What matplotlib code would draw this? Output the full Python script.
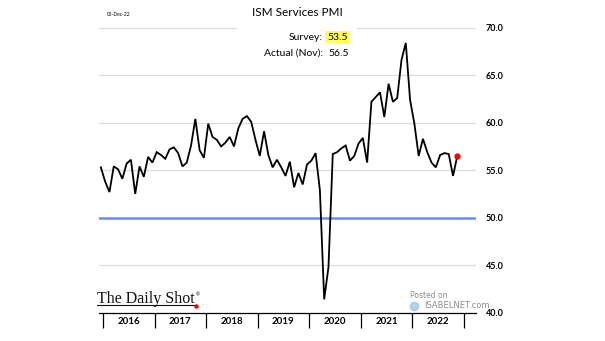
import numpy as np
import matplotlib
matplotlib.use("Agg")
import matplotlib.pyplot as plt
from matplotlib.patches import Rectangle
from matplotlib.lines import Line2D

plt.rcParams['font.family'] = ['Lato', 'DejaVu Sans']

# ISM services PMI, monthly, Dec 2015 .. Nov 2022
pmi = [55.3,
       53.8, 52.7, 55.4, 55.1, 54.1, 55.7, 56.1, 52.5, 55.4, 54.3, 56.4, 55.8,   # 2016
       56.9, 56.6, 56.2, 57.2, 57.4, 56.8, 55.4, 55.8, 57.6, 60.4, 57.1, 56.3,   # 2017
       59.9, 58.5, 58.2, 57.5, 57.9, 58.5, 57.5, 59.4, 60.4, 60.7, 60.1, 58.2,   # 2018
       56.5, 59.1, 56.6, 55.3, 56.1, 55.3, 54.4, 55.9, 53.2, 54.7, 53.5, 55.6,   # 2019
       56.0, 56.8, 52.9, 41.4, 44.8, 56.7, 56.9, 57.3, 57.6, 56.0, 56.5, 57.8,   # 2020
       58.4, 55.8, 62.2, 62.7, 63.2, 60.6, 64.1, 62.2, 62.6, 66.6, 68.4, 62.4,   # 2021
       59.9, 56.5, 58.3, 56.9, 55.8, 55.3, 56.6, 56.8, 56.7, 54.4, 56.5]         # 2022
years = ['2016', '2017', '2018', '2019', '2020', '2021', '2022']
yticks = [40, 45, 50, 55, 60, 65, 70]
survey = 53.5
actual = 56.5
threshold = 50

W, H = 605, 341
fig = plt.figure(figsize=(W / 100, H / 100), dpi=100)


def fx(px):
    return px / W


def fy(py):
    return 1 - py / H


ax = fig.add_axes([fx(98.5), fy(312.7), fx(476) - fx(98.5), fy(27.7) - fy(312.7)])

# month index: 0 = Jan 2016
months = np.arange(-1, len(pmi) - 1)
ax.plot(months, pmi, color='black', lw=1.3, zorder=4, solid_joinstyle='miter')
ax.plot(months[-1], pmi[-1], 'o', color='red', ms=3.5, zorder=5)
ax.axhline(threshold, color='#6d8cf0', lw=1.8, zorder=3)

ax.set_xlim(-1.55, 86.35)
ax.set_ylim(yticks[0], yticks[-1])

for v in yticks[1:]:
    ax.axhline(v, color='#dcdcdc', lw=0.9, zorder=1)

ax.yaxis.tick_right()
ax.set_yticks(yticks)
ax.set_yticklabels(['%.1f' % v for v in yticks], fontsize=6.5, fontweight='bold')
ax.tick_params(axis='y', length=0, pad=7)

bounds = [12 * k - 0.5 for k in range(len(years) + 1)]
ax.set_xticks(bounds)
ax.set_xticklabels([])
ax.set_xticks([b + 6 for b in bounds[:-1]], minor=True)
ax.set_xticklabels(years, minor=True, fontsize=7, fontweight='bold')
ax.tick_params(axis='x', which='major', direction='out', length=11, width=0.9)
ax.tick_params(axis='x', which='minor', length=0, pad=3)

for side in ['top', 'right', 'left']:
    ax.spines[side].set_visible(False)
ax.spines['bottom'].set_linewidth(0.9)
ax.spines['bottom'].set_zorder(6)

# white box behind the survey/actual block
fig.patches.append(Rectangle((fx(237), fy(64)), fx(357) - fx(237), fy(22) - fy(64),
                             transform=fig.transFigure, facecolor='white',
                             edgecolor='none', zorder=2))

fig.text(fx(297), fy(12), 'ISM Services PMI', ha='center', va='center', fontsize=8.5)
fig.text(fx(107), fy(14), '05-Dec-22', ha='left', va='center', fontsize=3.5)

fig.text(fx(323), fy(37), 'Survey:', ha='right', va='center', fontsize=7.5, zorder=3)
fig.text(fx(327), fy(37), '%.1f' % survey, ha='left', va='center', fontsize=7.5, zorder=3,
         bbox=dict(boxstyle='square,pad=0.15', facecolor='#ffff55', edgecolor='none'))
fig.text(fx(323), fy(53), 'Actual (Nov):', ha='right', va='center', fontsize=7.5, zorder=3)
fig.text(fx(328), fy(53), '%.1f' % actual, ha='left', va='center', fontsize=7.5, zorder=3)

# The Daily Shot logo, underline and dot sized from the rendered text
logo = fig.text(fx(97), fy(303), 'The Daily Shot', ha='left', va='baseline', fontsize=11.5,
                family='Liberation Serif', color='#111111')
bb = logo.get_window_extent(renderer=fig.canvas.get_renderer())
end = bb.x1
fig.add_artist(Line2D([fx(97), end / W], [fy(305), fy(305)], color='#111111', lw=0.8,
                      transform=fig.transFigure))
fig.text(end / W + fx(1), fy(295), '®', ha='left', va='center', fontsize=3.5, color='#111111')
fig.add_artist(Line2D([end / W + fx(1.5)], [fy(305.5)], marker='o', ms=2.2, color='red', lw=0,
                      transform=fig.transFigure))

# watermark
fig.text(fx(410), fy(296), 'Posted on', ha='left', va='center', fontsize=5.5,
         family='DejaVu Sans', color='#8c8c8c')
fig.text(fx(424), fy(306), 'ISABELNET.com', ha='left', va='center', fontsize=6,
         family='DejaVu Sans', color='#8c8c8c')
fig.add_artist(Line2D([fx(414)], [fy(306)], marker='o', ms=6, color='#9fc8e4', lw=0,
                      alpha=0.8, transform=fig.transFigure))

fig.savefig('out.png', dpi=100)
